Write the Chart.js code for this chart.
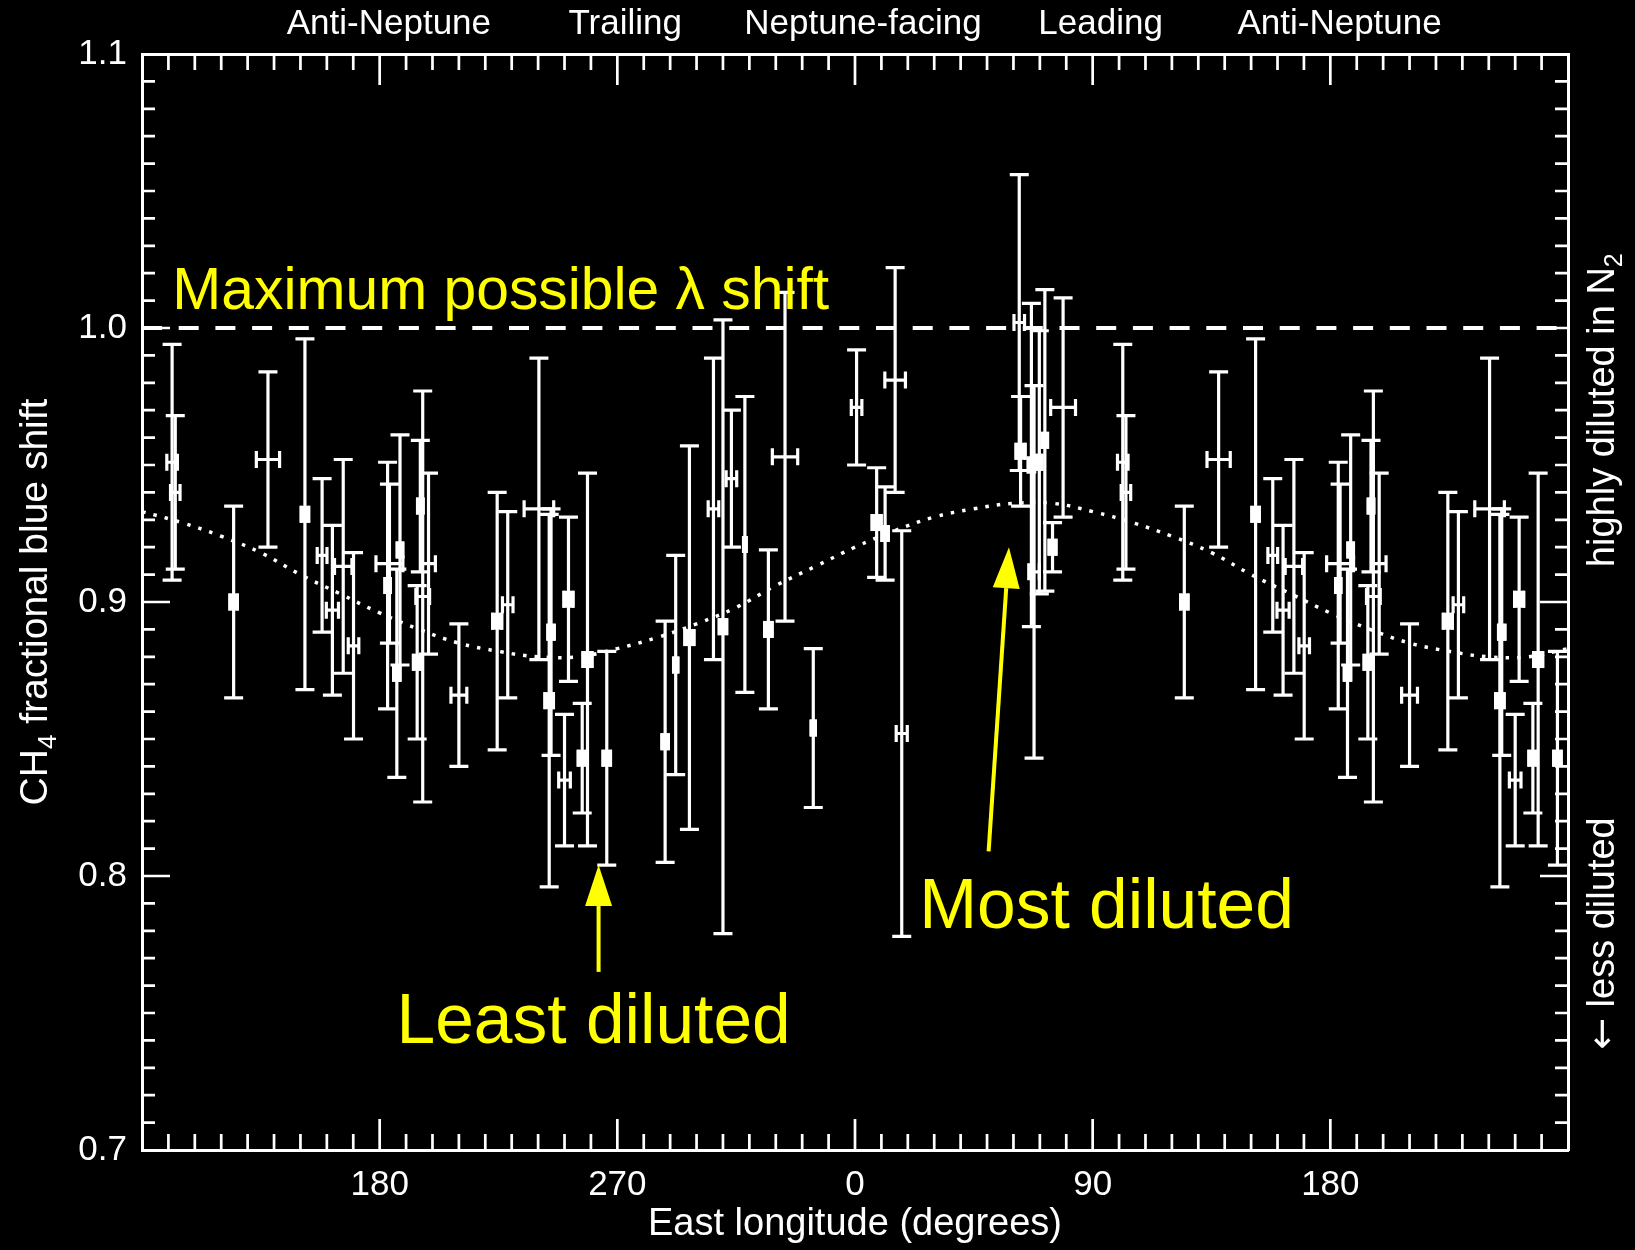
<!DOCTYPE html>
<html>
<head>
<meta charset="utf-8">
<script src="https://cdn.jsdelivr.net/npm/chart.js@4/dist/chart.umd.min.js"></script>
<style>
html, body { margin: 0; padding: 0; background: #000; overflow: hidden; }
canvas { display: block; }
</style>
</head>
<body>
<canvas id="chart" width="1635" height="1250"></canvas>
<script>
// east longitude of each spectrum (deg), CH4 fractional blue shift and errors
const lonDeg = [101.4, 102.6, 124.7, 137.7, 151.7, 158.2, 162.1, 166.2, 170.1, 183.7,
  183.0, 186.5, 187.7, 195.4, 196.3, 198.5, 194.2, 210.0, 224.5, 228.5,
  240.3, 244.9, 244.2, 250.0, 251.5, 256.7, 258.7, 266.0, 288.1, 292.1,
  297.3, 306.4, 310.0, 313.2, 318.3, 327.2, 333.5, 344.2, 0.6, 8.2,
  11.4, 15.2, 17.7, 62.2, 62.7, 66.8, 67.8, 69.8, 71.9, 74.8, 78.8];
const blueShift = [0.951, 0.940, 0.900, 0.952, 0.932, 0.917, 0.897, 0.913, 0.884, 0.914,
  0.906, 0.874, 0.919, 0.935, 0.902, 0.914, 0.878, 0.866, 0.893, 0.899,
  0.934, 0.889, 0.864, 0.835, 0.901, 0.843, 0.879, 0.843, 0.849, 0.877,
  0.887, 0.934, 0.891, 0.945, 0.921, 0.890, 0.953, 0.854, 0.971, 0.929,
  0.925, 0.981, 0.852, 1.002, 0.955, 0.950, 0.911, 0.951, 0.959, 0.920, 0.971];
const shiftErr = [0.043, 0.028, 0.035, 0.032, 0.064, 0.028, 0.031, 0.039, 0.034, 0.029,
  0.045, 0.038, 0.042, 0.024, 0.075, 0.033, 0.028, 0.026, 0.047, 0.034,
  0.055, 0.045, 0.068, 0.024, 0.030, 0.020, 0.068, 0.039, 0.044, 0.040,
  0.070, 0.055, 0.112, 0.025, 0.054, 0.029, 0.060, 0.029, 0.021, 0.020,
  0.017, 0.041, 0.074, 0.054, 0.020, 0.059, 0.068, 0.048, 0.055, 0.009, 0.040];
const lonErr = [2.0, 1.8, 1.4, 4.4, 1.4, 1.85, 2.3, 3.3, 2.0, 5.1,
  1.0, 1.2, 1.05, 1.05, 2.6, 2.6, 1.4, 3.0, 1.7, 2.0,
  5.6, 1.2, 1.6, 2.2, 1.7, 1.5, 1.7, 1.4, 1.2, 0.8,
  1.7, 2.0, 1.4, 2.0, 0.5, 1.4, 4.8, 0.8, 2.0, 1.7,
  1.2, 3.9, 2.1, 2.0, 1.7, 1.2, 2.0, 1.0, 1.0, 1.3, 4.7];

const curveLon = [90, 105, 120, 135, 150, 165, 180, 195, 210, 225, 240, 255, 270,
  285, 300, 315, 330, 345, 360, 375, 390, 405, 420, 435, 450,
  465, 480, 495, 510, 525, 540, 555, 570, 585, 600, 615, 630];
const curveVal = [0.933, 0.929, 0.924, 0.918, 0.910, 0.903, 0.896, 0.890, 0.885, 0.882, 0.880, 0.880, 0.883,
  0.887, 0.892, 0.898, 0.906, 0.913, 0.920, 0.926, 0.931, 0.934, 0.936, 0.936, 0.933,
  0.929, 0.924, 0.918, 0.910, 0.903, 0.896, 0.890, 0.885, 0.882, 0.880, 0.880, 0.883];

const maxShift = 1.0;

// axis labels
const xMajorTicks = [180, 270, 360, 450, 540];
const xMajorLabels = ['180', '270', '0', '90', '180'];
const regionPos = [183.5, 273, 363, 453, 543.5];
const regionLabels = ['Anti-Neptune', 'Trailing', 'Neptune-facing', 'Leading', 'Anti-Neptune'];

const FONT = '"Liberation Sans", Arial, sans-serif';
const YELLOW = '#ffff00';

Chart.defaults.font.family = FONT;
Chart.defaults.color = '#fff';

const xTickValues = [];
for (let v = 90; v <= 630; v += 10) xTickValues.push(v);
const yTickValues = [];
for (let k = 70; k <= 110; k++) yTickValues.push(k / 100);

// longitude axis is unwrapped from 90 to 630, so points repeat every 360
const points = [];
lonDeg.forEach((lon, i) => {
  [0, 360].forEach(off => {
    const u = lon + off;
    if (u >= 90 && u <= 630) {
      points.push({ x: u, y: blueShift[i], xerr: lonErr[i], yerr: shiftErr[i] });
    }
  });
});

// annotation placement in data units
const notes = [
  { text: 'Maximum possible λ shift', x: 101.5, y: 1.007, size: 58.8 },
  { text: 'Least diluted', x: 186.4, y: 0.739, size: 69.5 },
  { text: 'Most diluted', x: 384.3, y: 0.781, size: 69.5 }
];
const arrows = [
  { x0: 262.9, y0: 0.765, x1: 262.9, y1: 0.804 },
  { x0: 410.6, y0: 0.809, x1: 418.3, y1: 0.920 }
];

const background = {
  id: 'background',
  beforeDraw(chart) {
    const ctx = chart.ctx;
    ctx.save();
    ctx.fillStyle = '#000';
    ctx.fillRect(0, 0, chart.width, chart.height);
    ctx.restore();
  }
};

const errorBars = {
  id: 'errorBars',
  afterDatasetsDraw(chart) {
    const { ctx, chartArea: a, scales: { x, y } } = chart;
    const ds = chart.data.datasets.find(d => d.label === 'points');
    const lw = 3.2, cap = 9.5, tick = 8.5;
    ctx.save();
    ctx.beginPath();
    ctx.rect(a.left, a.top, a.right - a.left, a.bottom - a.top);
    ctx.clip();
    ctx.strokeStyle = '#fff';
    ctx.fillStyle = '#fff';
    ctx.lineWidth = lw;
    ctx.lineCap = 'butt';
    ds.data.forEach(p => {
      const px = x.getPixelForValue(p.x), py = y.getPixelForValue(p.y);
      const yt = y.getPixelForValue(p.y + p.yerr), yb = y.getPixelForValue(p.y - p.yerr);
      const xl = x.getPixelForValue(p.x - p.xerr), xr = x.getPixelForValue(p.x + p.xerr);
      ctx.beginPath();
      ctx.moveTo(px, yt); ctx.lineTo(px, yb);
      ctx.moveTo(px - cap, yt); ctx.lineTo(px + cap, yt);
      ctx.moveTo(px - cap, yb); ctx.lineTo(px + cap, yb);
      ctx.moveTo(xl, py); ctx.lineTo(xr, py);
      ctx.moveTo(xl, py - tick); ctx.lineTo(xl, py + tick);
      ctx.moveTo(xr, py - tick); ctx.lineTo(xr, py + tick);
      ctx.stroke();
      // narrow longitude bars merge into a solid block
      if (xr - xl <= 9) ctx.fillRect(xl - lw / 2, py - tick, xr - xl + lw, 2 * tick);
    });
    ctx.restore();
  }
};

function drawRotated(ctx, x, yc, parts) {
  ctx.save();
  ctx.translate(x, yc);
  ctx.rotate(-Math.PI / 2);
  ctx.fillStyle = '#fff';
  ctx.textAlign = 'left';
  ctx.textBaseline = 'alphabetic';
  let total = 0;
  parts.forEach(p => {
    ctx.font = p.size + 'px ' + (p.family || FONT);
    p.w = ctx.measureText(p.text).width;
    total += p.w;
  });
  let cx = -total / 2;
  parts.forEach(p => {
    ctx.font = p.size + 'px ' + (p.family || FONT);
    ctx.fillText(p.text, cx, p.dy || 0);
    cx += p.w;
  });
  ctx.restore();
}

const frame = {
  id: 'frame',
  afterDraw(chart) {
    const { ctx, chartArea: a, scales: { x, y } } = chart;
    ctx.save();
    ctx.strokeStyle = '#fff';
    ctx.lineWidth = 2.7;
    ctx.beginPath();
    x.ticks.forEach(t => {
      if (t.value <= x.min || t.value >= x.max) return;
      const px = x.getPixelForValue(t.value);
      const len = xMajorTicks.includes(t.value) ? 31 : 16;
      ctx.moveTo(px, a.bottom); ctx.lineTo(px, a.bottom - len);
      ctx.moveTo(px, a.top); ctx.lineTo(px, a.top + len);
    });
    y.ticks.forEach(t => {
      if (t.value <= y.min + 1e-9 || t.value >= y.max - 1e-9) return;
      const py = y.getPixelForValue(t.value);
      const len = Math.round(t.value * 100) % 10 === 0 ? 28 : 13;
      ctx.moveTo(a.left, py); ctx.lineTo(a.left + len, py);
      ctx.moveTo(a.right, py); ctx.lineTo(a.right - len, py);
    });
    ctx.stroke();

    // rotated axis titles
    const yc = (a.top + a.bottom) / 2;
    drawRotated(ctx, 47, yc, [
      { text: 'CH', size: 39 },
      { text: '4', size: 26, dy: 9 },
      { text: ' fractional blue shift', size: 39 }
    ]);
    drawRotated(ctx, 1614, y.getPixelForValue(0.970), [
      { text: 'highly diluted in N', size: 38 },
      { text: '2', size: 25, dy: 8 }
    ]);
    drawRotated(ctx, 1614, y.getPixelForValue(0.779), [
      { text: '\u2190', size: 38, family: '"DejaVu Sans", sans-serif' },
      { text: ' less diluted', size: 38 }
    ]);

    // yellow annotations
    ctx.fillStyle = YELLOW;
    ctx.strokeStyle = YELLOW;
    ctx.textAlign = 'left';
    ctx.textBaseline = 'alphabetic';
    notes.forEach(n => {
      ctx.font = n.size + 'px ' + FONT;
      ctx.fillText(n.text, x.getPixelForValue(n.x), y.getPixelForValue(n.y));
    });
    arrows.forEach(r => {
      const x0 = x.getPixelForValue(r.x0), y0 = y.getPixelForValue(r.y0);
      const x1 = x.getPixelForValue(r.x1), y1 = y.getPixelForValue(r.y1);
      const ang = Math.atan2(y1 - y0, x1 - x0);
      const hl = 41, hw = 13.5;
      const bx = x1 - hl * Math.cos(ang), by = y1 - hl * Math.sin(ang);
      ctx.lineWidth = 4;
      ctx.beginPath();
      ctx.moveTo(x0, y0); ctx.lineTo(bx, by);
      ctx.stroke();
      ctx.beginPath();
      ctx.moveTo(x1, y1);
      ctx.lineTo(bx + hw * Math.sin(ang), by - hw * Math.cos(ang));
      ctx.lineTo(bx - hw * Math.sin(ang), by + hw * Math.cos(ang));
      ctx.closePath();
      ctx.fill();
    });
    ctx.restore();
  }
};

const axisBorder = { display: true, color: '#fff', width: 3 };
const noGrid = { display: false, drawTicks: false };

new Chart(document.getElementById('chart'), {
  type: 'scatter',
  data: {
    datasets: [
      {
        label: 'points',
        data: points,
        pointRadius: 0,
        showLine: false,
        xAxisID: 'x',
        yAxisID: 'y'
      },
      {
        label: 'model',
        data: curveLon.map((v, i) => ({ x: v, y: curveVal[i] })),
        showLine: true,
        borderColor: '#fff',
        borderWidth: 3.5,
        borderDash: [3.5, 8.2],
        borderCapStyle: 'butt',
        pointRadius: 0,
        tension: 0.4,
        xAxisID: 'x',
        yAxisID: 'y'
      },
      {
        label: 'max',
        data: [{ x: 90, y: maxShift }, { x: 630, y: maxShift }],
        showLine: true,
        borderColor: '#fff',
        borderWidth: 4,
        borderDash: [20, 16.7],
        pointRadius: 0,
        xAxisID: 'x',
        yAxisID: 'y'
      }
    ]
  },
  options: {
    responsive: false,
    animation: false,
    devicePixelRatio: 1,
    layout: { padding: 0 },
    plugins: {
      legend: { display: false },
      tooltip: { enabled: false }
    },
    scales: {
      x: {
        type: 'linear',
        position: 'bottom',
        min: 90,
        max: 630,
        afterBuildTicks: s => { s.ticks = xTickValues.map(v => ({ value: v })); },
        afterFit: s => { s.height = 100; },
        grid: noGrid,
        border: axisBorder,
        ticks: {
          autoSkip: false, maxRotation: 0, minRotation: 0, padding: 14,
          color: '#fff', font: { size: 35 },
          callback: v => {
            const k = xMajorTicks.indexOf(v);
            return k < 0 ? '' : xMajorLabels[k];
          }
        },
        title: {
          display: true, text: 'East longitude (degrees)', color: '#fff',
          font: { size: 38 }, padding: { top: 0, bottom: 3 }
        }
      },
      xTop: {
        type: 'linear',
        position: 'top',
        min: 90,
        max: 630,
        afterBuildTicks: s => { s.ticks = regionPos.map(v => ({ value: v })); },
        afterFit: s => { s.height = 54; },
        grid: noGrid,
        border: axisBorder,
        ticks: {
          autoSkip: false, maxRotation: 0, minRotation: 0, padding: 9,
          color: '#fff', font: { size: 35 },
          callback: (v, i) => regionLabels[i]
        }
      },
      y: {
        type: 'linear',
        position: 'left',
        min: 0.7,
        max: 1.1,
        afterBuildTicks: s => { s.ticks = yTickValues.map(v => ({ value: v })); },
        afterFit: s => { s.width = 142; },
        grid: noGrid,
        border: axisBorder,
        ticks: {
          autoSkip: false, padding: 15, color: '#fff', font: { size: 35 },
          callback: v => (Math.round(v * 100) % 10 === 0 ? v.toFixed(1) : '')
        }
      },
      y2: {
        type: 'linear',
        position: 'right',
        min: 0.7,
        max: 1.1,
        afterFit: s => { s.width = 67; },
        grid: noGrid,
        border: axisBorder,
        ticks: { display: false }
      }
    }
  },
  plugins: [background, errorBars, frame]
});
</script>
</body>
</html>
